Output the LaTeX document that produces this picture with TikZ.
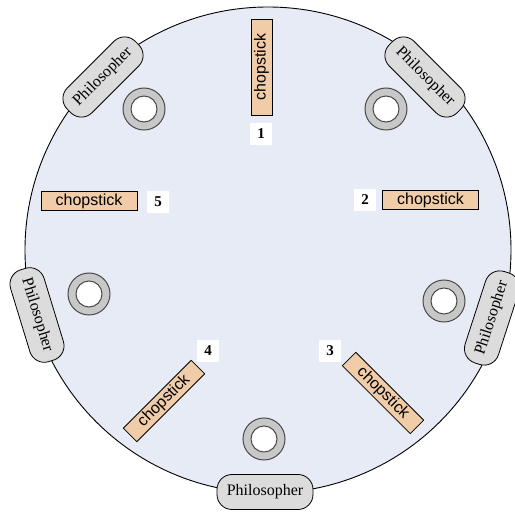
\documentclass[tikz,border=0pt]{standalone}
\usepackage{fontspec}
\setmainfont{Liberation Serif}
\newfontfamily\arialf{Liberation Sans}
\definecolor{tablebg}{HTML}{E7EBF5}
\definecolor{philfill}{HTML}{DCDCDC}
\definecolor{stickfill}{HTML}{F0CCA8}
\definecolor{ringfill}{HTML}{C8C8C8}
\definecolor{ringline}{HTML}{4A4A4A}
\tikzset{
  phil/.style={draw=black, fill=philfill, rounded corners=15pt, minimum width=96pt, minimum height=35pt, inner sep=0pt, font=\fontsize{16}{16}\selectfont, line width=0.8pt},
  stick/.style={draw=black, fill=stickfill, minimum width=96pt, minimum height=19pt, inner sep=0pt, font=\arialf\fontsize{16}{16}\selectfont, line width=0.8pt},
  numbox/.style={fill=white, minimum width=22pt, minimum height=22pt, inner sep=0pt, font=\bfseries\fontsize{15}{15}\selectfont},
  plateout/.style={circle, draw=ringline, fill=ringfill, minimum size=42pt, inner sep=0pt, line width=1pt},
  platein/.style={circle, draw=ringline, fill=white, minimum size=26pt, inner sep=0pt, line width=1pt}
}
\begin{document}
\begin{tikzpicture}[x=1pt,y=-1pt]
\useasboundingbox (0,0) rectangle (515,513);
\node[circle, draw=black, fill=tablebg, minimum size=486pt, inner sep=0pt, line width=0.9pt] (table) at (268,250) {};
% plates
\foreach \n/\x/\y in {ptl/144/109, ptr/386/109, pl/89/294, pr/444/301, pb/264/439}{
  \node[plateout] (\n o) at (\x,\y) {};
  \node[platein] (\n i) at (\x,\y) {};
}
% philosophers
\node[phil, rotate=45] (phtl) at (103,77) {Philosopher};
\node[phil, rotate=-45] (phtr) at (425,77) {Philosopher};
\node[phil, rotate=-73] (phl) at (37,315) {Philosopher};
\node[phil, rotate=72] (phr) at (492,318) {Philosopher};
\node[phil] (phb) at (265,492) {Philosopher};
% chopsticks
\node[stick, rotate=90, minimum height=21pt] (c1) at (261.5,67) {chopstick};
\node[stick] (c2) at (430.5,200) {chopstick};
\node[stick, rotate=-45] (c3) at (383,393) {chopstick};
\node[stick, rotate=45] (c4) at (164,401) {chopstick};
\node[stick] (c5) at (89,201) {chopstick};
% numbers
\node[numbox] (n1) at (261,134) {1};
\node[numbox] (n2) at (365,200) {2};
\node[numbox] (n3) at (330,351) {3};
\node[numbox] (n4) at (208,351) {4};
\node[numbox] (n5) at (158,202) {5};
\end{tikzpicture}
\end{document}
